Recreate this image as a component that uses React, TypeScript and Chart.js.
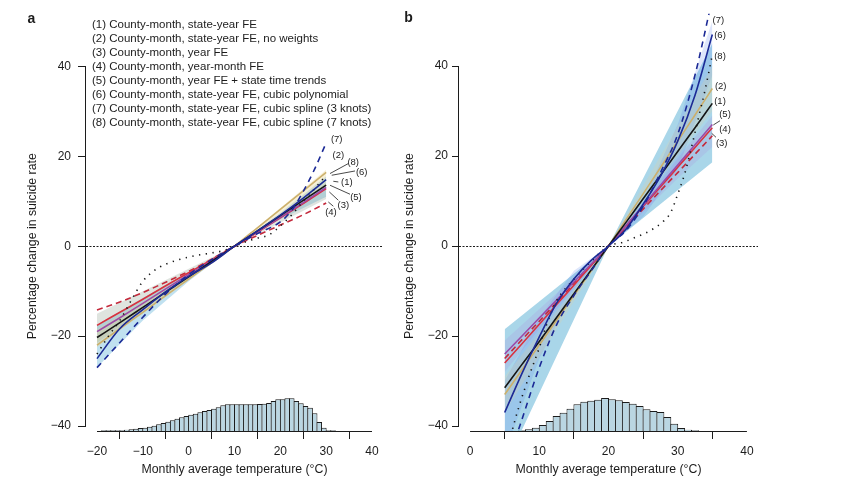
import React, { useEffect, useRef } from 'react';
import { Chart, registerables } from 'chart.js';

Chart.register(...registerables);

const FONT = "'Liberation Sans', Arial, Helvetica, sans-serif";
const INK = '#1c1c1c';

// ---------------- Text ----------------
const X_TITLE = 'Monthly average temperature (°C)';
const Y_TITLE = 'Percentage change in suicide rate';
const MODEL_NAMES = [
  '(1) County-month, state-year FE',
  '(2) County-month, state-year FE, no weights',
  '(3) County-month, year FE',
  '(4) County-month, year-month FE',
  '(5) County-month, year FE + state time trends',
  '(6) County-month, state-year FE, cubic polynomial',
  '(7) County-month, state-year FE, cubic spline (3 knots)',
  '(8) County-month, state-year FE, cubic spline (7 knots)',
];
const MODEL_TAGS = ['(1)', '(2)', '(3)', '(4)', '(5)', '(6)', '(7)', '(8)'];

// ---------------- Ticks ----------------
const A_X_TICKS = [-20, -10, 0, 10, 20, 30, 40];
const A_X_TICK_LABELS = ['−20', '−10', '0', '10', '20', '30', '40'];
const B_X_TICKS = [0, 10, 20, 30, 40];
const B_X_TICK_LABELS = ['0', '10', '20', '30', '40'];
const Y_TICKS = [-40, -20, 0, 20, 40];
const Y_TICK_LABELS = ['−40', '−20', '0', '20', '40'];

// ---------------- Panel a (US) ----------------
const A_TEMP = [-20, -15, -10, -5, 0, 5, 10, 15, 20, 25, 30];
const A_M1 = [-20.3, -17, -13.6, -10.2, -6.8, -3.4, 0, 3.4, 6.8, 10.2, 13.6];
const A_M2 = [-22, -18.3, -14.7, -11, -7.3, -3.7, 0, 4.1, 8.2, 12.3, 16.4];
const A_M3 = [-17.6, -14.7, -11.8, -8.8, -5.9, -3, 0, 3.1, 6.3, 9.5, 12.8];
const A_M4 = [-14.2, -12.4, -10.3, -8, -5.6, -2.9, 0, 2.4, 4.7, 7, 9.6];
const A_M5 = [-19, -15.9, -12.7, -9.5, -6.3, -3.2, 0, 3.2, 6.4, 9.7, 13.1];
const A_M6 = [-25, -18.3, -14.1, -10.1, -6.7, -3.7, 0, 3.4, 6.9, 10.7, 14.8];
const A_TEMP7 = [-20, -15, -10, -5, 0, 5, 10, 15, 20, 22.5, 25, 27.5, 30];
const A_M7 = [-27, -21.4, -15.8, -10.6, -6.3, -3, 0, 2.8, 5.4, 8, 12.2, 17.2, 23];
const A_TEMP8 = [-20, -17.5, -15, -12.5, -10, -7.5, -5, -2.5, 0, 2.5, 5, 7.5, 10, 12.5, 15, 17.5, 20, 22.5, 25, 27.5, 30];
const A_M8 = [-24, -20, -16.5, -12, -7.8, -5.4, -4, -3.1, -2.4, -1.9, -1.5, -1, 0, 1, 1.8, 2.5, 4.5, 7, 10, 12.8, 15.8];

const A_BAND_TEMP = [-20, -10, 0, 10, 20, 30];
const A_CI_BLUE_LO = [-27, -16.5, -7.8, 0, 6, 11];
const A_CI_BLUE_HI = [-17.5, -11.5, -5.8, 0, 7.4, 15.5];
const A_BAND_TEMP2 = [-20, 10, 30];
const A_CI_GREY_LO = [-21.5, 0, 10.5];
const A_CI_GREY_HI = [-15, 0, 14];
const A_CI_TAN_LO = [-22.5, 0, 13.5];
const A_CI_TAN_HI = [-18.5, 0, 17];

const A_HIST_BINS = [-18.5, -17.5, -16.5, -15.5, -14.5, -13.5, -12.5, -11.5, -10.5, -9.5, -8.5, -7.5, -6.5, -5.5, -4.5, -3.5, -2.5, -1.5, -0.5, 0.5, 1.5, 2.5, 3.5, 4.5, 5.5, 6.5, 7.5, 8.5, 9.5, 10.5, 11.5, 12.5, 13.5, 14.5, 15.5, 16.5, 17.5, 18.5, 19.5, 20.5, 21.5, 22.5, 23.5, 24.5, 25.5, 26.5, 27.5, 28.5, 29.5, 30.5, 31.5];
const A_HIST = [2, 2, 2, 2, 2, 4, 5, 7, 9, 10, 13, 16, 20, 24, 28, 32, 37, 41, 45, 49, 52, 56, 60, 63, 67, 71, 77, 80, 80, 80, 80, 80, 80, 80, 81, 82, 84, 90, 95, 95, 98, 98, 90, 83, 75, 70, 53, 27, 10, 2, 2];

// ---------------- Panel b (Mexico) ----------------
const B_TEMP = [5, 7.5, 10, 12.5, 15, 17.5, 20, 22.5, 25, 27.5, 30, 32.5, 35];
const B_M1 = [-31.5, -26.3, -21.2, -15.9, -10.6, -5.3, 0, 5.2, 10.5, 15.7, 21, 26.3, 31.7];
const B_M2 = [-33, -27.5, -22, -16.5, -11, -5.5, 0, 5.8, 11.6, 17.4, 23.3, 29.1, 35];
const B_M3 = [-26, -21.7, -17.4, -13, -8.7, -4.3, 0, 4.4, 8.8, 13.1, 17.5, 21.9, 26.3];
const B_M4 = [-25, -20.8, -16.7, -12.5, -8.3, -4.2, 0, 4.1, 8.2, 12.3, 16.3, 20.4, 24.5];
const B_M5 = [-24, -20, -16, -12, -8, -4, 0, 4.5, 9, 13.5, 18, 22.5, 27];
const B_M6 = [-37, -28.3, -20.2, -12.7, -7.3, -3.2, 0, 3.7, 9.3, 15.5, 23.3, 33.5, 47];
const B_M7 = [-50, -38.5, -27, -17.5, -11, -5.5, 0, 3.4, 8.8, 16.3, 24.8, 38, 55];
const B_TEMP8 = [5, 6, 7, 8.5, 10, 11, 12.5, 15, 17.5, 20, 22, 24, 26, 28, 29, 30, 31, 32, 33, 34, 35];
const B_M8 = [-48, -41.5, -36, -29, -22.6, -17.7, -12.2, -7.4, -3.4, 0, 0.8, 2, 3.4, 5.6, 7.5, 11.5, 16, 22, 28.5, 35, 42.5];

const B_BAND_TEMP = [5, 20, 35];
const B_CI_MAIN_LO = [-49, 0, 18.6];
const B_CI_MAIN_HI = [-18.5, 0, 45];
const B_BAND_TEMP2 = [5, 10, 15, 20, 25, 30, 35];
const B_CI_BLUE_LO = [-46, -25, -10, 0, 6.5, 17, 38];
const B_CI_BLUE_HI = [-30, -16, -5.5, 0, 10, 27, 50];
const B_CI_PURPLE_LO = [-28, -18.5, -9.5, 0, 7.5, 15, 22];
const B_CI_PURPLE_HI = [-21, -14, -7, 0, 9.5, 19.5, 29];
const B_CI_TAN_LO = [-37, 0, 30];
const B_CI_TAN_HI = [-29, 0, 40];

const B_HIST_BINS = [5.5, 6.5, 7.5, 8.5, 9.5, 10.5, 11.5, 12.5, 13.5, 14.5, 15.5, 16.5, 17.5, 18.5, 19.5, 20.5, 21.5, 22.5, 23.5, 24.5, 25.5, 26.5, 27.5, 28.5, 29.5, 30.5, 31.5, 32.5];
const B_HIST = [1, 1, 2, 5, 10, 18, 30, 45, 55, 67, 80, 88, 91, 94, 99, 95, 92, 87, 82, 75, 65, 60, 57, 42, 22, 9, 4, 2];

// ---------------- Styles ----------------
const MODEL_STYLE = [
  { color: '#151515', dash: [] as number[] },
  { color: '#ccb06c', dash: [] as number[] },
  { color: '#d9323f', dash: [] as number[] },
  { color: '#c42a3c', dash: [6, 4] },
  { color: '#9b4aa8', dash: [] as number[] },
  { color: '#1c2a96', dash: [] as number[] },
  { color: '#1c2a96', dash: [6, 5] },
  { color: '#151515', dash: [1.3, 5.5] },
];
const HIST_FILL = 'rgb(186, 214, 226)';
const HIST_SCALE_MAX = 1250;
const Y_MIN = -41.1;
const Y_MAX = 51.6;

const pts = (xs: number[], ys: number[]) => ys.map((y, i) => ({ x: xs[i], y }));

function lineDs(xs: number[], ys: number[], k: number, order: number) {
  const s = MODEL_STYLE[k];
  return {
    type: 'line',
    label: MODEL_TAGS[k],
    data: pts(xs, ys),
    borderColor: s.color,
    borderWidth: 1.6,
    borderDash: s.dash,
    pointRadius: 0,
    fill: false,
    cubicInterpolationMode: 'monotone',
    order,
  };
}

function bandDs(xs: number[], lo: number[], hi: number[], color: string, order: number) {
  return [
    { type: 'line', data: pts(xs, lo), borderWidth: 0, pointRadius: 0, fill: false, tension: 0, order },
    { type: 'line', data: pts(xs, hi), borderWidth: 0, pointRadius: 0, fill: '-1', backgroundColor: color, tension: 0, order },
  ];
}

function histDs(bins: number[], counts: number[], barPct: number) {
  return {
    type: 'bar',
    data: pts(bins, counts),
    yAxisID: 'yh',
    backgroundColor: HIST_FILL,
    borderColor: INK,
    borderWidth: 1,
    borderSkipped: 'start',
    barPercentage: barPct,
    categoryPercentage: 1,
    order: 30,
  };
}

type Tag = { t: string; x: number; y: number };
type Lead = [number, number, number, number];

function makeDecor(cfg: any) {
  return {
    id: 'decor',
    beforeDatasetsDraw(chart: any) {
      const { ctx, chartArea: a, scales } = chart;
      const y0 = Math.round(scales.y.getPixelForValue(0)) + 0.5;
      ctx.save();
      ctx.strokeStyle = INK;
      ctx.lineWidth = 1;
      ctx.setLineDash([2, 1.5]);
      ctx.beginPath();
      ctx.moveTo(a.left, y0);
      ctx.lineTo(a.right, y0);
      ctx.stroke();
      ctx.restore();
    },
    afterDraw(chart: any) {
      const { ctx, chartArea: a, scales } = chart;
      const xs = scales.x;
      const ys = scales.y;
      ctx.save();
      ctx.strokeStyle = INK;
      ctx.fillStyle = INK;
      ctx.lineWidth = 1;
      // R-style axis lines spanning the tick range
      const yb = Math.round(a.bottom) + 0.5;
      ctx.beginPath();
      ctx.moveTo(xs.getPixelForValue(cfg.xTicks[0]), yb);
      ctx.lineTo(xs.getPixelForValue(cfg.xTicks[cfg.xTicks.length - 1]), yb);
      ctx.stroke();
      const xl = Math.round(a.left) - 0.5;
      ctx.beginPath();
      ctx.moveTo(xl, ys.getPixelForValue(Y_TICKS[0]));
      ctx.lineTo(xl, ys.getPixelForValue(Y_TICKS[Y_TICKS.length - 1]));
      ctx.stroke();

      // curve tags + leader lines
      ctx.lineWidth = 0.8;
      (cfg.leads as Lead[]).forEach((l) => {
        ctx.beginPath();
        ctx.moveTo(xs.getPixelForValue(l[0]), ys.getPixelForValue(l[1]));
        ctx.lineTo(xs.getPixelForValue(l[2]), ys.getPixelForValue(l[3]));
        ctx.stroke();
      });
      ctx.font = `9.5px ${FONT}`;
      ctx.textAlign = 'center';
      ctx.textBaseline = 'middle';
      (cfg.tags as Tag[]).forEach((g) => {
        ctx.fillText(g.t, xs.getPixelForValue(g.x), ys.getPixelForValue(g.y));
      });

      // legend text
      if (cfg.legend) {
        ctx.font = `11.5px ${FONT}`;
        ctx.textAlign = 'left';
        (cfg.legend as string[]).forEach((t, i) => {
          ctx.fillText(t, a.left + 6, a.top + 10.2 + 14 * i);
        });
      }

      // panel letter
      ctx.font = `bold 14px ${FONT}`;
      ctx.textAlign = 'center';
      ctx.fillText(cfg.letter, cfg.letterX, cfg.letterY);

      // axis titles
      ctx.font = `12.3px ${FONT}`;
      ctx.fillText(X_TITLE, (a.left + a.right) / 2, cfg.xTitleY);
      const yc = (ys.getPixelForValue(Y_TICKS[0]) + ys.getPixelForValue(Y_TICKS[Y_TICKS.length - 1])) / 2;
      ctx.translate(cfg.yTitleX, yc);
      ctx.rotate(-Math.PI / 2);
      ctx.fillText(Y_TITLE, 0, 0);
      ctx.restore();
    },
  };
}

function makeConfig(p: any) {
  return {
    type: 'line',
    data: { datasets: p.datasets },
    options: {
      responsive: false,
      animation: false,
      devicePixelRatio: 1,
      events: [],
      layout: { padding: p.padding, autoPadding: false },
      plugins: { legend: { display: false }, tooltip: { enabled: false } },
      scales: {
        x: {
          type: 'linear',
          min: p.xMin,
          max: p.xMax,
          offset: false,
          position: 'bottom',
          border: { display: false },
          grid: { drawOnChartArea: false, drawTicks: true, tickLength: 8, color: INK, tickColor: INK, lineWidth: 1 },
          ticks: {
            font: { family: FONT, size: 12 },
            color: INK,
            padding: 5,
            maxRotation: 0,
            autoSkip: false,
            callback: (v: number) => {
              const i = p.xTicks.indexOf(v);
              return i >= 0 ? p.xTickLabels[i] : '';
            },
          },
          afterBuildTicks: (s: any) => {
            s.ticks = p.xTicks.map((value: number) => ({ value }));
          },
          afterFit: (s: any) => {
            s.height = 50;
          },
        },
        y: {
          type: 'linear',
          min: Y_MIN,
          max: Y_MAX,
          position: 'left',
          border: { display: false },
          grid: { drawOnChartArea: false, drawTicks: true, tickLength: p.yTickLen, color: INK, tickColor: INK, lineWidth: 1 },
          ticks: {
            font: { family: FONT, size: 12 },
            color: INK,
            padding: p.yTickPad,
            autoSkip: false,
            callback: (v: number) => {
              const i = Y_TICKS.indexOf(v);
              return i >= 0 ? Y_TICK_LABELS[i] : '';
            },
          },
          afterBuildTicks: (s: any) => {
            s.ticks = Y_TICKS.map((value) => ({ value }));
          },
          afterFit: (s: any) => {
            s.width = p.yWidth;
          },
        },
        yh: { type: 'linear', display: false, min: 0, max: HIST_SCALE_MAX },
      },
    },
    plugins: [makeDecor(p.decor)],
  };
}

function panelA() {
  const datasets = [
    lineDs(A_TEMP, A_M6, 5, 0),
    lineDs(A_TEMP7, A_M7, 6, 0),
    lineDs(A_TEMP, A_M1, 0, 0),
    lineDs(A_TEMP8, A_M8, 7, 0),
    lineDs(A_TEMP, A_M5, 4, 0),
    lineDs(A_TEMP, A_M3, 2, 0),
    lineDs(A_TEMP, A_M4, 3, 0),
    lineDs(A_TEMP, A_M2, 1, 0),
    histDs(A_HIST_BINS, A_HIST, 1.2),
    ...bandDs(A_BAND_TEMP2, A_CI_TAN_LO, A_CI_TAN_HI, 'rgba(232, 212, 140, 0.35)', 10),
    ...bandDs(A_BAND_TEMP2, A_CI_GREY_LO, A_CI_GREY_HI, 'rgba(150, 165, 150, 0.3)', 11),
    ...bandDs(A_BAND_TEMP, A_CI_BLUE_LO, A_CI_BLUE_HI, 'rgba(130, 195, 225, 0.5)', 12),
  ];
  return makeConfig({
    datasets,
    padding: { top: 13.8, right: 12, bottom: 0, left: 0 },
    xMin: -22.4,
    xMax: 42.4,
    xTicks: A_X_TICKS,
    xTickLabels: A_X_TICK_LABELS,
    yTickLen: 8,
    yTickPad: 7,
    yWidth: 86,
    decor: {
      xTicks: A_X_TICKS,
      letter: 'a',
      letterX: 31.5,
      letterY: 19.5,
      xTitleY: 469.5,
      yTitleX: 33,
      legend: MODEL_NAMES,
      tags: [
        { t: MODEL_TAGS[6], x: 32.3, y: 23.8 },
        { t: MODEL_TAGS[1], x: 32.65, y: 20.2 },
        { t: MODEL_TAGS[7], x: 35.9, y: 18.6 },
        { t: MODEL_TAGS[5], x: 37.75, y: 16.5 },
        { t: MODEL_TAGS[0], x: 34.5, y: 14.15 },
        { t: MODEL_TAGS[4], x: 36.5, y: 10.95 },
        { t: MODEL_TAGS[2], x: 33.75, y: 9.1 },
        { t: MODEL_TAGS[3], x: 31.05, y: 7.6 },
      ],
      leads: [
        [30.84, 16.16, 34.83, 18.38],
        [31.21, 15.78, 36.29, 16.73],
        [31.56, 14.44, 32.65, 14.29],
        [30.84, 13.56, 35.2, 11.56],
        [30.69, 12.07, 32.65, 10.22],
        [30.47, 9.84, 31.56, 8.89],
      ],
    },
  });
}

function panelB() {
  const datasets = [
    lineDs(B_TEMP, B_M6, 5, 0),
    lineDs(B_TEMP, B_M7, 6, 0),
    lineDs(B_TEMP, B_M1, 0, 0),
    lineDs(B_TEMP8, B_M8, 7, 0),
    lineDs(B_TEMP, B_M5, 4, 0),
    lineDs(B_TEMP, B_M3, 2, 0),
    lineDs(B_TEMP, B_M4, 3, 0),
    lineDs(B_TEMP, B_M2, 1, 0),
    histDs(B_HIST_BINS, B_HIST, 1.14),
    ...bandDs(B_BAND_TEMP, B_CI_TAN_LO, B_CI_TAN_HI, 'rgba(232, 205, 150, 0.22)', 10),
    ...bandDs(B_BAND_TEMP2, B_CI_PURPLE_LO, B_CI_PURPLE_HI, 'rgba(170, 120, 220, 0.16)', 11),
    ...bandDs(B_BAND_TEMP2, B_CI_BLUE_LO, B_CI_BLUE_HI, 'rgba(90, 130, 235, 0.2)', 12),
    ...bandDs(B_BAND_TEMP, B_CI_MAIN_LO, B_CI_MAIN_HI, 'rgba(140, 200, 225, 0.75)', 13),
  ];
  return makeConfig({
    datasets,
    padding: { top: 13.8, right: 89, bottom: 0, left: 0 },
    xMin: -1.6,
    xMax: 41.6,
    xTicks: B_X_TICKS,
    xTickLabels: B_X_TICK_LABELS,
    yTickLen: 7,
    yTickPad: 4,
    yWidth: 64,
    decor: {
      xTicks: B_X_TICKS,
      letter: 'b',
      letterX: 13.5,
      letterY: 18.5,
      xTitleY: 470,
      yTitleX: 14.5,
      legend: null,
      tags: [
        { t: MODEL_TAGS[6], x: 35.87, y: 50.2 },
        { t: MODEL_TAGS[5], x: 36.11, y: 46.9 },
        { t: MODEL_TAGS[7], x: 36.11, y: 42.1 },
        { t: MODEL_TAGS[1], x: 36.21, y: 35.4 },
        { t: MODEL_TAGS[0], x: 36.11, y: 32.2 },
        { t: MODEL_TAGS[4], x: 36.83, y: 29.3 },
        { t: MODEL_TAGS[3], x: 36.83, y: 25.9 },
        { t: MODEL_TAGS[2], x: 36.36, y: 22.8 },
      ],
      leads: [
        [35.14, 26.89, 36.11, 27.84],
        [34.91, 25.04, 35.53, 24.16],
      ],
    },
  });
}

export default function App() {
  const refA = useRef<HTMLCanvasElement>(null);
  const refB = useRef<HTMLCanvasElement>(null);
  useEffect(() => {
    const ca = new Chart(refA.current as HTMLCanvasElement, panelA() as any);
    const cb = new Chart(refB.current as HTMLCanvasElement, panelB() as any);
    return () => {
      ca.destroy();
      cb.destroy();
    };
  }, []);
  return (
    <div style={{ position: 'absolute', left: 0, top: 0, width: 847, height: 481, background: '#fff', overflow: 'hidden' }}>
      <canvas ref={refA} width={395} height={481} style={{ position: 'absolute', left: 0, top: 0, width: 395, height: 481 }} />
      <canvas ref={refB} width={452} height={481} style={{ position: 'absolute', left: 395, top: 0, width: 452, height: 481 }} />
    </div>
  );
}
